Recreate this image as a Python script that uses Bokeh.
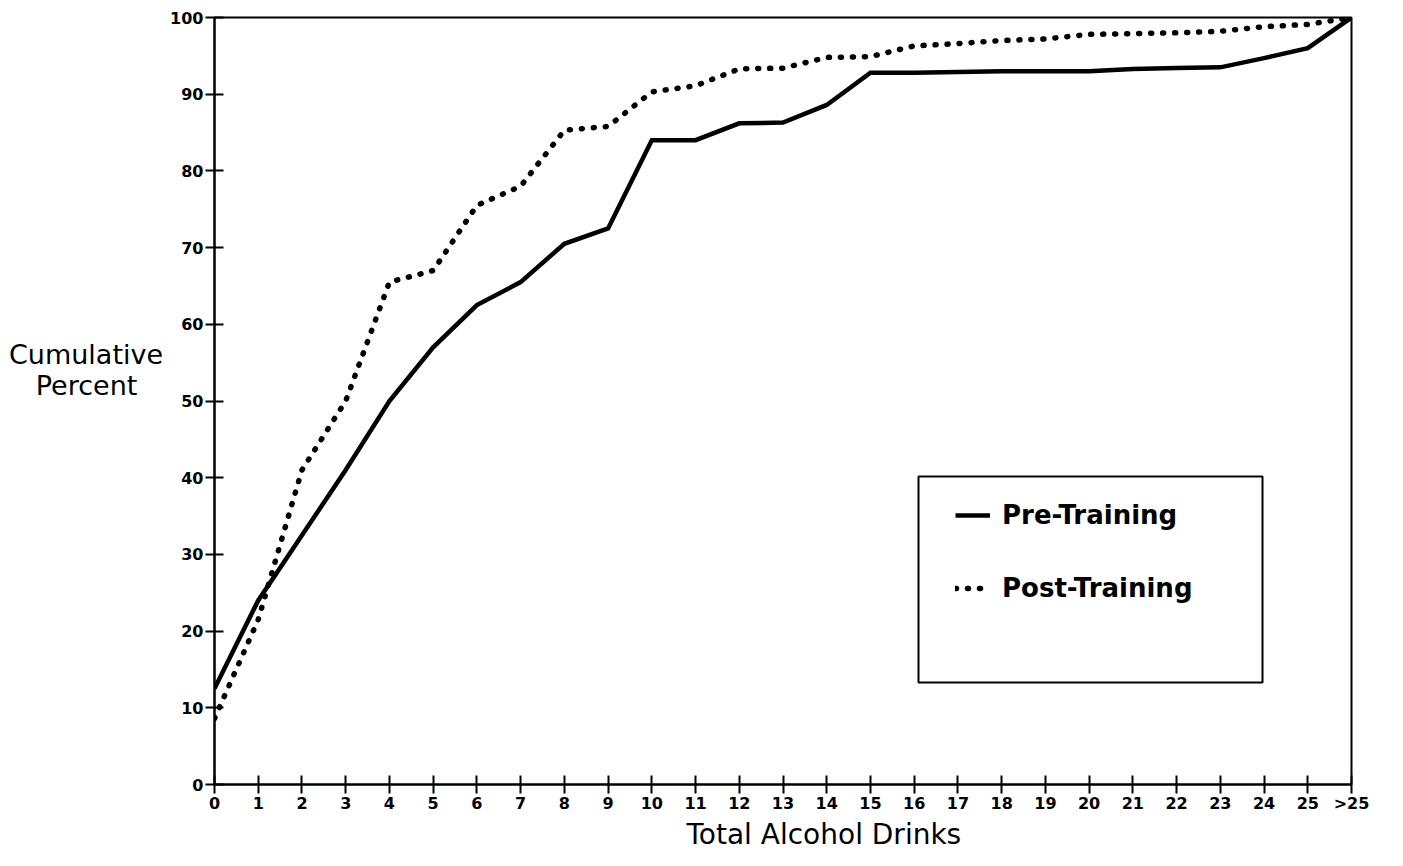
from bokeh.plotting import figure
from bokeh.models import (Range1d, FixedTicker, Legend, LegendItem, Title,
                          BoxAnnotation)
from bokeh.embed import file_html
from bokeh.resources import INLINE

# ---- data ----
drinks = list(range(0, 27))          # 26 stands for ">25"
tick_labels = {i: str(i) for i in range(26)}
tick_labels[26] = ">25"
pre_training = [12.5, 24, 32.5, 41, 50, 57, 62.5, 65.5, 70.5, 72.5,
                84, 84, 86.2, 86.3, 88.6, 92.8, 92.8, 92.9, 93, 93,
                93, 93.3, 93.4, 93.5, 94.7, 96, 100]
post_training = [8.6, 21.5, 41, 50, 65.5, 67, 75.5, 78, 85.3, 85.8,
                 90.3, 91.1, 93.3, 93.4, 94.8, 94.9, 96.3, 96.6, 97, 97.2,
                 97.8, 97.9, 98, 98.2, 98.8, 99.1, 100]
y_ticks = list(range(0, 101, 10))
series_names = ["Pre-Training", "Post-Training"]
y_title = "Cumulative\nPercent\u00a0\u00a0\u00a0\n\n"
x_title = "Total Alcohol Drinks"

p = figure(width=1387, height=850, output_backend="svg", toolbar_location=None,
           x_range=Range1d(0, 26), y_range=Range1d(0, 100),
           min_border_left=214, min_border_right=36,
           min_border_top=17, min_border_bottom=10)
p.background_fill_color = "white"
p.border_fill_color = "white"
p.xgrid.visible = False
p.ygrid.visible = False
p.outline_line_color = "black"
p.outline_line_width = 2

for ax in (p.xaxis[0], p.yaxis[0]):
    ax.axis_line_width = 2
    ax.axis_line_color = "black"
    ax.major_tick_line_width = 2
    ax.major_tick_line_color = "black"
    ax.major_tick_in = 9
    ax.major_tick_out = 9
    ax.minor_tick_line_color = None
    ax.major_label_text_font = "DejaVu Sans"
    ax.major_label_text_font_style = "bold"
    ax.major_label_text_font_size = "16px"
    ax.major_label_text_color = "black"

p.xaxis[0].ticker = FixedTicker(ticks=drinks)
p.xaxis[0].major_label_overrides = tick_labels
p.xaxis[0].major_label_standoff = 0
p.yaxis[0].ticker = FixedTicker(ticks=y_ticks)
p.yaxis[0].major_label_standoff = 2
p.yaxis[0].axis_label = y_title
p.yaxis[0].axis_label_orientation = "horizontal"
p.yaxis[0].axis_label_standoff = 4
p.yaxis[0].axis_label_text_font = "DejaVu Sans"
p.yaxis[0].axis_label_text_font_style = "normal"
p.yaxis[0].axis_label_text_font_size = "27px"
p.yaxis[0].axis_label_text_color = "black"
p.yaxis[0].axis_label_text_line_height = 1.0

r_pre = p.line(drinks, pre_training, line_color="black", line_width=4.5,
               line_join="miter")
r_post = p.line(drinks, post_training, line_color="black", line_width=5.5,
                line_dash="1 11", line_cap="round")

# legend box
box = BoxAnnotation(left=704, right=1048, top=308, bottom=102,
                    left_units="screen", right_units="screen",
                    top_units="screen", bottom_units="screen",
                    fill_color="white", fill_alpha=1.0,
                    line_color="black", line_alpha=1.0, line_width=2)
p.add_layout(box)

legend = Legend(items=[LegendItem(label=series_names[0], renderers=[r_pre]),
                       LegendItem(label=series_names[1], renderers=[r_post])],
                location=(741, 181), margin=0, padding=0,
                border_line_color=None, background_fill_alpha=0,
                glyph_width=35, glyph_height=30, label_height=30,
                label_standoff=12, spacing=43,
                label_text_font="DejaVu Sans", label_text_font_style="bold",
                label_text_font_size="26px", label_text_color="black")
p.add_layout(legend)

# x-axis title (placed as a title below the axis so it can sit off-centre)
p.add_layout(Title(text=x_title, align="left", offset=472,
                   text_font="DejaVu Sans", text_font_style="normal",
                   text_font_size="28px", text_color="black", standoff=0),
             "below")

open("out.html", "w").write(file_html(p, INLINE))
